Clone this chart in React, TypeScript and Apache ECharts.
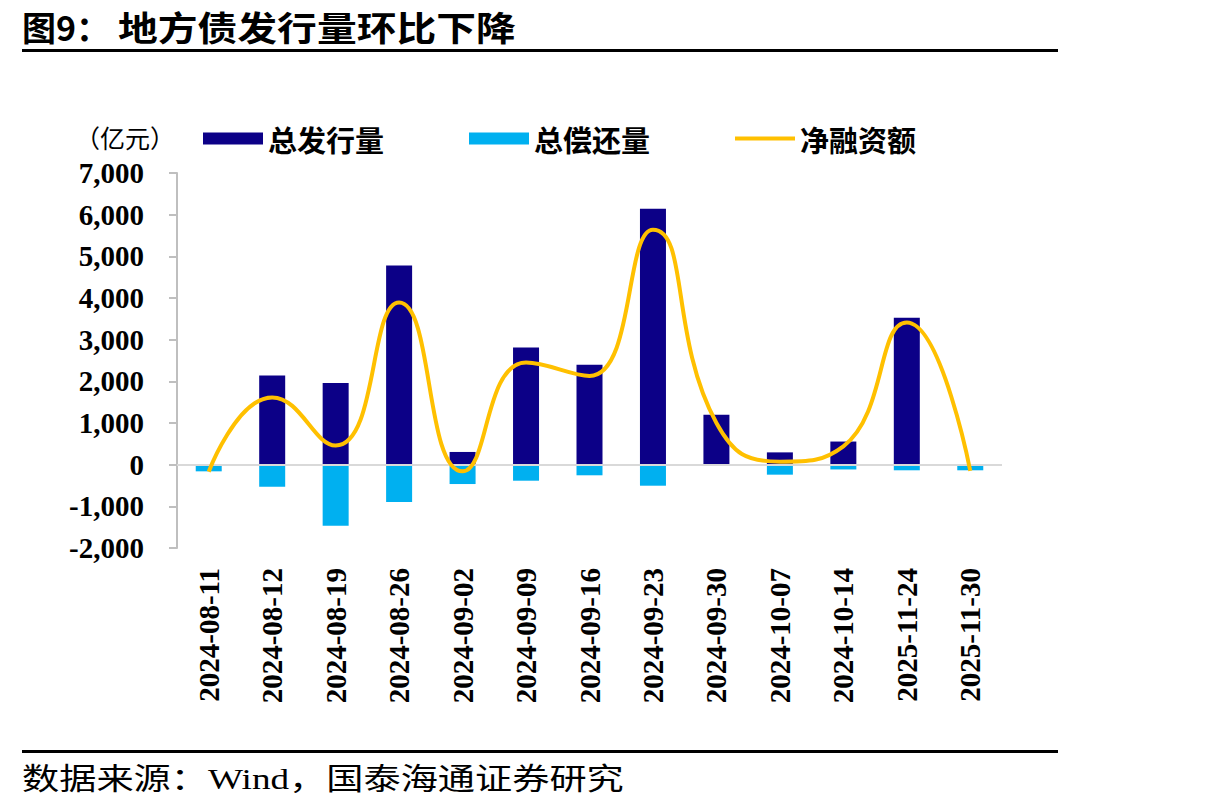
import React, { useEffect, useRef } from "react";
import * as echarts from "echarts";

// Weekly local-government bond figures (亿元)
const categories = [
  "2024-08-11",
  "2024-08-12",
  "2024-08-19",
  "2024-08-26",
  "2024-09-02",
  "2024-09-09",
  "2024-09-16",
  "2024-09-23",
  "2024-09-30",
  "2024-10-07",
  "2024-10-14",
  "2025-11-24",
  "2025-11-30",
];
const issuance = [0, 2140, 1960, 4780, 305, 2810, 2400, 6140, 1200, 295, 555, 3525, 0];
const repayment = [-160, -530, -1465, -895, -465, -385, -255, -505, 0, -240, -115, -135, -135];
const netFinancing = [-170, 1615, 460, 3890, -160, 2450, 2130, 5640, 1000, 70, 440, 3410, -150];

const seriesNames = ["总发行量", "总偿还量", "净融资额"];
const yMin = -2000;
const yMax = 7000;
const yStep = 1000;

const SERIF = '"Liberation Serif", "Times New Roman", "Noto Sans CJK SC", serif';
const CJK = '"Noto Sans CJK SC", sans-serif';

export default function App() {
  const ref = useRef<HTMLDivElement>(null);

  useEffect(() => {
    if (!ref.current) return;
    const chart = echarts.init(ref.current, null, { renderer: "svg" });

    const option: any = {
      animation: false,
      backgroundColor: "#ffffff",
      grid: { left: 177, right: 213, top: 173, bottom: 264, containLabel: false },
      legend: {
        left: 198,
        top: 119,
        itemWidth: 60,
        itemHeight: 12,
        itemGap: 85,
        data: [
          { name: seriesNames[0], icon: "rect" },
          { name: seriesNames[1], icon: "rect" },
          { name: seriesNames[2], icon: "path://M0 0H60V4H0Z" },
        ],
        textStyle: {
          fontFamily: CJK,
          fontSize: 29,
          fontWeight: "bold",
          color: "#000",
        },
      },
      xAxis: {
        type: "category",
        data: categories,
        axisLine: { show: false },
        axisTick: { show: false },
        axisLabel: {
          interval: 0,
          rotate: 90,
          margin: 20,
          fontFamily: SERIF,
          fontSize: 29,
          fontWeight: "bold",
          color: "#000",
        },
      },
      yAxis: {
        type: "value",
        min: yMin,
        max: yMax,
        interval: yStep,
        splitLine: { show: false },
        axisLine: { show: true, lineStyle: { color: "#bfbfbf", width: 2 } },
        axisTick: { show: true, length: 8, lineStyle: { color: "#bfbfbf", width: 2 } },
        axisLabel: {
          margin: 33,
          fontFamily: SERIF,
          fontSize: 29,
          fontWeight: "bold",
          color: "#000",
          formatter: (v: number) => v.toLocaleString("en-US"),
        },
      },
      series: [
        {
          name: seriesNames[0],
          type: "bar",
          stack: "flow",
          barWidth: 26,
          data: issuance,
          itemStyle: { color: "#0C0087" },
          markLine: {
            silent: true,
            symbol: "none",
            label: { show: false },
            lineStyle: { color: "#d9d9d9", width: 2, type: "solid" },
            data: [{ yAxis: 0 }],
          },
        },
        {
          name: seriesNames[1],
          type: "bar",
          stack: "flow",
          barWidth: 26,
          data: repayment,
          itemStyle: { color: "#00B0F0" },
        },
        {
          name: seriesNames[2],
          type: "line",
          smooth: true,
          symbol: "none",
          data: netFinancing,
          lineStyle: { color: "#FFC000", width: 4 },
          itemStyle: { color: "#FFC000" },
          z: 5,
        },
      ],
      graphic: [
        {
          type: "text",
          x: 22,
          y: 26,
          style: {
            text: "图9：",
            font: `bold 34px ${CJK}`,
            fill: "#000",
            textVerticalAlign: "middle",
          },
        },
        {
          type: "text",
          x: 118,
          y: 26,
          scaleX: 1.17,
          style: {
            text: "地方债发行量环比下降",
            font: `bold 34px ${CJK}`,
            fill: "#000",
            textVerticalAlign: "middle",
          },
        },
        {
          type: "rect",
          shape: { x: 22, y: 49, width: 1036, height: 3 },
          style: { fill: "#000" },
        },
        {
          type: "text",
          x: 75,
          y: 137,
          style: {
            text: "（亿元）",
            font: `25px ${CJK}`,
            fill: "#000",
            textVerticalAlign: "middle",
          },
        },
        {
          type: "rect",
          shape: { x: 22, y: 750, width: 1036, height: 3 },
          style: { fill: "#000" },
        },
        {
          type: "text",
          x: 22,
          y: 779,
          scaleX: 1.24,
          style: {
            text: "数据来源：Wind，国泰海通证券研究",
            font: `30px ${SERIF}`,
            fill: "#000",
            textVerticalAlign: "middle",
          },
        },
      ],
    };

    chart.setOption(option);
    return () => chart.dispose();
  }, []);

  return (
    <div
      ref={ref}
      style={{ position: "fixed", left: 0, top: 0, width: 1215, height: 812, background: "#fff" }}
    />
  );
}
